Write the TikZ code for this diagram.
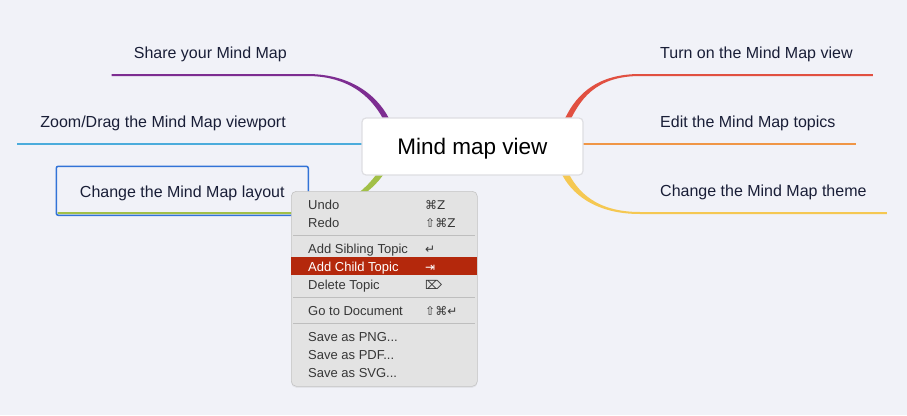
\documentclass[tikz,border=0pt]{standalone}
\usepackage{fontspec}
\setmainfont{Liberation Sans}
\newfontfamily\keyfont{DejaVu Sans}
\usepackage{tikz}
\usetikzlibrary{positioning,calc}
\usetikzlibrary{shadows, backgrounds}

\definecolor{bgcol}{RGB}{241,242,248}
\definecolor{ink}{RGB}{25,30,55}
\definecolor{rootline}{RGB}{222,222,226}
\definecolor{purp}{RGB}{125,45,145}
\definecolor{cyanb}{RGB}{75,172,220}
\definecolor{grn}{RGB}{162,192,72}
\definecolor{redb}{RGB}{225,80,65}
\definecolor{orng}{RGB}{240,150,70}
\definecolor{yell}{RGB}{245,200,82}
\definecolor{selblue}{RGB}{50,115,215}
\definecolor{menugray}{RGB}{227,227,227}
\definecolor{menuline}{RGB}{196,196,196}
\definecolor{sepgray}{RGB}{190,190,190}
\definecolor{menutext}{RGB}{55,55,55}
\definecolor{hilite}{RGB}{180,40,12}

\newcommand{\tdots}{...}

\tikzset{
  root/.style={draw=rootline, line width=1.2pt, fill=white, rounded corners=4pt,
    minimum width=221pt, minimum height=57pt, text height=16pt, text depth=0pt,
    font=\fontsize{22.5}{27}\selectfont},
  topic/.style={text=ink, font=\fontsize{16}{19}\selectfont, minimum height=44pt, inner xsep=20pt,
    text height=11.5pt, text depth=0pt},
  menubox/.style={fill=menugray, draw=menuline, line width=0.6pt, rounded corners=5pt,
    minimum width=186pt, minimum height=195pt,
    drop shadow={opacity=0.12, shadow xshift=0pt, shadow yshift=-1.5pt}},
  item/.style={anchor=west, inner sep=0pt, text=menutext, text height=9.3pt, text depth=0pt,
    font=\fontsize{13}{15}\selectfont},
  key/.style={item, font=\keyfont\fontsize{12}{15}\selectfont},
  sepline/.style={draw=sepgray, line width=0.8pt},
}

\begin{document}
\begin{tikzpicture}[x=1pt,y=-1pt]
  \node[root] (root) at (472.5,146.5) {Mind map view};

  % topics on the left
  \node[topic, anchor=south east] (share) at (307,75) {Share your Mind Map};
  \node[topic, anchor=south east] (zoom) at (306,144) {Zoom/Drag the Mind Map viewport};
  \node[topic, anchor=south east, draw=selblue, line width=1.5pt, rounded corners=2pt,
    minimum width=252pt, minimum height=49pt, text height=14pt] (layout) at (309,216) {Change the Mind Map layout};
  % topics on the right
  \node[topic, anchor=south west] (turn) at (640,75) {Turn on the Mind Map view};
  \node[topic, anchor=south west] (edit) at (640,144) {Edit the Mind Map topics};
  \node[topic, anchor=south west] (theme) at (640,213) {Change the Mind Map theme};

  \begin{pgfonlayer}{background}
    \fill[bgcol] (0,0) rectangle (907,415);
    % branches, thicker near the root
    \fill[purp] ($(share.south west)+(-2,-1)$) -- ($(share.south east)+(0,-1)$)
      .. controls +(48,0) and +(-10,-22) .. ($(root.north west)+(29,4)$) -- ++(-6,0)
      .. controls +(-10,-20) and +(46,0) .. ($(share.south east)+(0,1)$)
      -- ($(share.south west)+(-2,1)$) -- cycle;
    \draw[cyanb, line width=2pt] ([xshift=-3pt]zoom.south west) -- (zoom.south west -| root.center);
    \fill[grn] ($(layout.south west)+(2,-2)$) -- ($(layout.south east)+(-12,-2)$)
      .. controls +(45,0) and +(-14,22) .. ($(root.south west)+(24,-4)$) -- ++(-7,0)
      .. controls +(-14,20) and +(44,0) .. ($(layout.south east)+(-12,-4)$)
      -- ($(layout.south west)+(2,-4)$) -- cycle;
    \fill[redb] ($(turn.south east)+(0,-1)$) -- ($(turn.south west)+(0,-1)$)
      .. controls +(-48,0) and +(10,-22) .. ($(root.north east)+(-20,4)$) -- ++(6,0)
      .. controls +(10,-20) and +(-46,0) .. ($(turn.south west)+(0,1)$)
      -- ($(turn.south east)+(0,1)$) -- cycle;
    \draw[orng, line width=2.2pt] (edit.south east) -- (edit.south east -| root.center);
    \fill[yell] ($(theme.south east)+(0,1)$) -- ($(theme.south west)+(0,1)$)
      .. controls +(-45,0) and +(10,22) .. ($(root.south east)+(-23,-4)$) -- ++(7,0)
      .. controls +(10,20) and +(-44,0) .. ($(theme.south west)+(0,-1)$)
      -- ($(theme.south east)+(0,-1)$) -- cycle;
  \end{pgfonlayer}

  % context menu
  \node[menubox, anchor=north west] (menu) at (291,191) {};
  \fill[hilite] (291.3,257.3) rectangle (476.6,275);
  \foreach \y in {235,297,323}
    \draw[sepline] (293,\y) -- (475,\y);
  \foreach \n/\y/\txt in {undo/205/Undo, redo/222.5/Redo, sib/248.5/Add Sibling Topic,
      del/284.5/Delete Topic, doc/310.7/Go to Document, png/336.7/Save as PNG\tdots,
      pdf/354.7/Save as PDF\tdots, svg/372.5/Save as SVG\tdots}
    \node[item] (\n) at (308,\y) {\txt};
  \node[item, text=white] (child) at (308,266.5) {Add Child Topic};
  \foreach \n/\y/\k in {undo/205/⌘Z, redo/222.5/⇧⌘Z, sib/248.5/↵, del/284.5/⌦, doc/310.7/⇧⌘↵}
    \node[key] (\n-k) at (425,\y) {\k};
  \node[key, text=white] (child-k) at (425,266.5) {⇥};
\end{tikzpicture}
\end{document}
